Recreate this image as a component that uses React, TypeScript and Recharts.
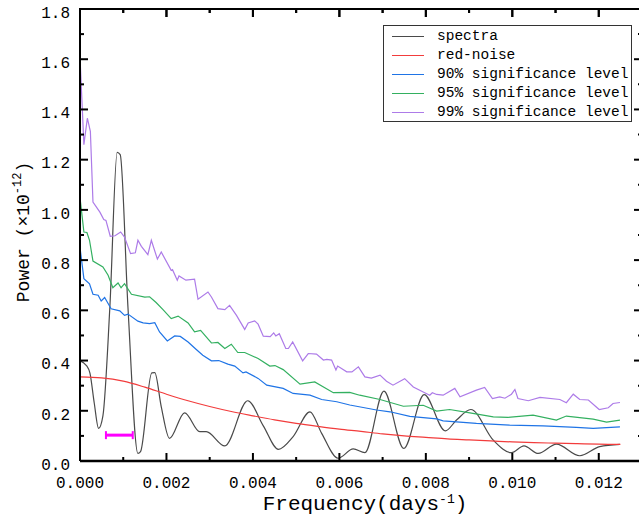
import React from "react"
import { LineChart, Line, XAxis, YAxis, ReferenceLine, CartesianGrid } from "recharts"

const MONO = '"Liberation Mono", "DejaVu Sans Mono", monospace'

// tick positions (major + minor)
const xTicks = [0, 0.001, 0.002, 0.003, 0.004, 0.005, 0.006, 0.007, 0.008, 0.009, 0.01, 0.011, 0.012, 0.013]
const yTicks = [0, 0.1, 0.2, 0.3, 0.4, 0.5, 0.6, 0.7, 0.8, 0.9, 1.0, 1.1, 1.2, 1.3, 1.4, 1.5, 1.6, 1.7, 1.8]

// spectra
const spectraFreq = [
  0, 0.00015, 0.00023, 0.00033, 0.00043, 0.00053, 0.00069, 0.00086, 0.00093, 0.00111,
  0.00134, 0.0014, 0.00166, 0.00173, 0.00188, 0.00207, 0.00242, 0.00277, 0.00292, 0.00335,
  0.00388, 0.00424, 0.00459, 0.00493, 0.00532, 0.00559, 0.00597, 0.00632, 0.00659, 0.00703,
  0.00749, 0.00796, 0.00845, 0.00871, 0.00904, 0.00956, 0.00998, 0.01027, 0.0106, 0.01102,
  0.01156, 0.01202, 0.01249,
]
const spectraPower = [
  0.399, 0.38, 0.35, 0.23, 0.13, 0.18, 0.61, 1.229, 1.22, 0.61,
  0.03, 0.037, 0.351, 0.352, 0.216, 0.09, 0.192, 0.117, 0.117, 0.06,
  0.24, 0.14, 0.046, 0.097, 0.196, 0.11, 0.011, 0.048, 0.033, 0.278,
  0.05, 0.264, 0.12, 0.163, 0.205, 0.083, 0.033, 0.06, 0.03, 0.067,
  0.021, 0.057, 0.066,
]

// red-noise
const redFreq = [
  0, 0.0005, 0.001, 0.0015, 0.002, 0.0025, 0.003, 0.0035, 0.004, 0.0045, 0.005, 0.0055, 0.006,
  0.0065, 0.007, 0.0075, 0.008, 0.0085, 0.009, 0.0095, 0.01, 0.0105, 0.011, 0.0115, 0.012, 0.0125,
]
const redPower = [
  0.335, 0.331, 0.318, 0.294, 0.266, 0.24, 0.217, 0.197, 0.18, 0.164, 0.15, 0.138, 0.127,
  0.118, 0.108, 0.1, 0.094, 0.088, 0.084, 0.08, 0.076, 0.073, 0.071, 0.069, 0.067, 0.066,
]

// 90% significance level
const sig90Freq = [
  0, 0.00009, 0.00022, 0.0003, 0.00042, 0.00049, 0.00057, 0.00072, 0.00092, 0.00103,
  0.00111, 0.00134, 0.00146, 0.00161, 0.00173, 0.00184, 0.00202, 0.00219, 0.00232, 0.0025,
  0.00269, 0.00284, 0.00304, 0.00321, 0.00342, 0.00358, 0.00377, 0.00384, 0.00412, 0.00432,
  0.0047, 0.00493, 0.00532, 0.00559, 0.00594, 0.00624, 0.00686, 0.00717, 0.00763, 0.00825,
  0.0084, 0.00917, 0.00994, 0.01071, 0.01148, 0.01187, 0.01249,
]
const sig90Power = [
  0.85, 0.726, 0.706, 0.664, 0.66, 0.637, 0.651, 0.606, 0.598, 0.58,
  0.585, 0.557, 0.55, 0.547, 0.551, 0.514, 0.478, 0.498, 0.496, 0.474,
  0.444, 0.421, 0.399, 0.4, 0.386, 0.378, 0.351, 0.355, 0.329, 0.302,
  0.289, 0.269, 0.262, 0.245, 0.236, 0.223, 0.203, 0.196, 0.178, 0.168,
  0.16, 0.15, 0.143, 0.14, 0.134, 0.13, 0.136,
]

// 95% significance level
const sig95Freq = [
  0, 0.00009, 0.00016, 0.00022, 0.0003, 0.00053, 0.00065, 0.00076, 0.00088, 0.00095,
  0.00103, 0.00119, 0.0015, 0.00161, 0.00176, 0.00192, 0.00211, 0.00227, 0.0025, 0.00265,
  0.00279, 0.00304, 0.00319, 0.00335, 0.0035, 0.00365, 0.00381, 0.00412, 0.00439, 0.00451,
  0.0047, 0.00509, 0.00543, 0.00586, 0.00624, 0.00647, 0.00694, 0.00748, 0.00794, 0.00825,
  0.00855, 0.00902, 0.00956, 0.0099, 0.01048, 0.01102, 0.01125, 0.01187, 0.01218, 0.01249,
]
const sig95Power = [
  1.049, 0.912, 0.91, 0.879, 0.796, 0.773, 0.74, 0.69, 0.709, 0.69,
  0.706, 0.664, 0.653, 0.654, 0.631, 0.603, 0.567, 0.577, 0.55, 0.514,
  0.52, 0.47, 0.472, 0.448, 0.465, 0.432, 0.432, 0.408, 0.378, 0.38,
  0.364, 0.306, 0.315, 0.272, 0.273, 0.262, 0.245, 0.218, 0.222, 0.199,
  0.205, 0.192, 0.176, 0.174, 0.183, 0.163, 0.179, 0.167, 0.155, 0.163,
]

// 99% significance level
const sig99Freq = [
  0, 0.00009, 0.00017, 0.00024, 0.0003, 0.00046, 0.00055, 0.0006, 0.0007, 0.00081,
  0.00094, 0.00103, 0.00117, 0.00128, 0.00134, 0.00142, 0.00157, 0.00165, 0.00179, 0.00188,
  0.00211, 0.00214, 0.00225, 0.00229, 0.00245, 0.00265, 0.00273, 0.00296, 0.00304, 0.00319,
  0.00335, 0.00346, 0.00362, 0.00381, 0.00389, 0.00404, 0.00412, 0.00424, 0.0044, 0.00448,
  0.00453, 0.00461, 0.00476, 0.00482, 0.00492, 0.00515, 0.00528, 0.00547, 0.00563, 0.00571,
  0.00582, 0.00592, 0.00596, 0.00617, 0.00629, 0.00644, 0.00659, 0.00674, 0.00694, 0.00709,
  0.00724, 0.00751, 0.00771, 0.00802, 0.00809, 0.00815, 0.00825, 0.0084, 0.00867, 0.00879,
  0.00917, 0.00936, 0.00954, 0.00971, 0.00983, 0.00998, 0.01006, 0.01013, 0.01037, 0.01064,
  0.0111, 0.01125, 0.01141, 0.01156, 0.01176, 0.01201, 0.01222, 0.01233, 0.01249,
]
const sig99Power = [
  1.608, 1.26, 1.365, 1.313, 1.031, 0.991, 0.962, 0.958, 0.895, 0.897,
  0.912, 0.892, 0.826, 0.829, 0.879, 0.855, 0.822, 0.879, 0.804, 0.832,
  0.759, 0.762, 0.72, 0.737, 0.72, 0.724, 0.644, 0.673, 0.653, 0.607,
  0.603, 0.62, 0.58, 0.524, 0.55, 0.558, 0.545, 0.497, 0.495, 0.51,
  0.498, 0.507, 0.448, 0.448, 0.474, 0.399, 0.428, 0.426, 0.402, 0.405,
  0.402, 0.362, 0.378, 0.355, 0.355, 0.375, 0.335, 0.33, 0.342, 0.318,
  0.302, 0.328, 0.295, 0.268, 0.262, 0.272, 0.265, 0.262, 0.289, 0.256,
  0.282, 0.293, 0.249, 0.255, 0.25, 0.266, 0.285, 0.249, 0.24, 0.253,
  0.245, 0.232, 0.266, 0.245, 0.243, 0.205, 0.212, 0.229, 0.233,
]

// magenta resolution bar
const barFreq = [0.0006, 0.00122]
const barPower = [0.103, 0.103]

const toPoints = (xs: number[], ys: number[]) => xs.map((freq, i) => ({ freq, power: ys[i] }))

const seriesList = [
  { name: "spectra", color: "#4a4a4a", data: toPoints(spectraFreq, spectraPower), curve: "monotone" },
  { name: "red-noise", color: "#f23c3c", data: toPoints(redFreq, redPower), curve: "monotone" },
  { name: "90% significance level", color: "#1f74e6", data: toPoints(sig90Freq, sig90Power), curve: "linear" },
  { name: "95% significance level", color: "#33b060", data: toPoints(sig95Freq, sig95Power), curve: "linear" },
  { name: "99% significance level", color: "#ad7be8", data: toPoints(sig99Freq, sig99Power), curve: "linear" },
]

// plot box inside the 650x516 chart
const PLOT = { left: 80, top: 9, width: 562, height: 452 }

const isMajor = (v: number, step: number) => Math.round(v / step) % 2 === 0

const BottomTick = (props: any) => {
  const { x, y, payload } = props
  const major = isMajor(payload.value, 0.001)
  return (
    <g>
      <line x1={x} x2={x} y1={y} y2={y - (major ? 8 : 4)} stroke="#000" strokeWidth={2} />
      {major ? (
        <text x={x} y={y + 27} textAnchor="middle" fontSize={16} fontFamily={MONO} fill="#000">
          {payload.value.toFixed(3)}
        </text>
      ) : null}
    </g>
  )
}

const LeftTick = (props: any) => {
  const { x, y, payload } = props
  const major = isMajor(payload.value, 0.1)
  return (
    <g>
      <line x1={x} x2={x + (major ? 8 : 4)} y1={y} y2={y} stroke="#000" strokeWidth={2} />
      {major ? (
        <text x={x - 10} y={y + 3} dy="0.36em" textAnchor="end" fontSize={16} fontFamily={MONO} fill="#000">
          {payload.value.toFixed(1)}
        </text>
      ) : null}
    </g>
  )
}

// top edge: inward tick from the upper end of a vertical reference line
const topTickShape = (len: number) => (p: any) => {
  const yTop = Math.min(p.y1, p.y2)
  return <line x1={p.x1} x2={p.x1} y1={yTop} y2={yTop + len} stroke="#000" strokeWidth={2} />
}

// right edge: inward tick from the right end of a horizontal reference line
const rightTickShape = (len: number) => (p: any) => {
  const xRight = Math.max(p.x1, p.x2)
  return <line x1={xRight} x2={xRight - len} y1={p.y1} y2={p.y1} stroke="#000" strokeWidth={2} />
}

const XTitle = (props: any) => {
  const vb = props.viewBox ?? { x: 80, y: 461, width: 562, height: 40 }
  return (
    <text x={vb.x + vb.width / 2 + 4} y={510} textAnchor="middle" fontSize={21} fontFamily={MONO} fill="#000">
      Frequency(days
      <tspan dy={-7} fontSize={13}>-1</tspan>
      <tspan dy={7}>)</tspan>
    </text>
  )
}

const YTitle = () => {
  const cx = 29
  const cy = 232
  return (
    <text x={cx} y={cy} textAnchor="middle" fontSize={18} fontFamily={MONO} fill="#000" transform={`rotate(-90, ${cx}, ${cy})`}>
      Power (×10
      <tspan dy={-8} fontSize={12}>-12</tspan>
      <tspan dy={8}>)</tspan>
    </text>
  )
}

// top frame edge with its inward ticks, laid over the chart
const TopFrame = () => {
  const xMax = xTicks[xTicks.length - 1]
  return (
    <svg
      width={639}
      height={24}
      style={{ position: "absolute", left: 0, top: 0, zIndex: 5, pointerEvents: "none", overflow: "visible" }}
    >
      <line x1={PLOT.left - 1} x2={PLOT.left + PLOT.width} y1={PLOT.top} y2={PLOT.top} stroke="#000" strokeWidth={2} />
      {xTicks.map((t) => {
        const x = PLOT.left + (t / xMax) * PLOT.width
        return <line key={t} x1={x} x2={x} y1={PLOT.top} y2={PLOT.top + (isMajor(t, 0.001) ? 8 : 4)} stroke="#000" strokeWidth={2} />
      })}
    </svg>
  )
}

const LegendBox = () => (
  <div
    style={{
      position: "absolute",
      left: 383,
      top: 25,
      width: 247,
      height: 94,
      border: "1px solid #333",
      background: "#fff",
      fontFamily: MONO,
      fontSize: 14.5,
      color: "#000",
      paddingTop: 1,
      zIndex: 6,
    }}
  >
    {seriesList.map((s) => (
      <div key={s.name} style={{ display: "flex", alignItems: "center", height: 19 }}>
        <div style={{ width: 32, height: 1.5, background: s.color, marginLeft: 8, marginRight: 13, flex: "none" }} />
        <span style={{ lineHeight: "19px", whiteSpace: "nowrap" }}>{s.name}</span>
      </div>
    ))}
  </div>
)

const CapDot = (props: any) => {
  const { cx, cy } = props
  if (cx == null || cy == null) return null
  return <line key={`${cx}-${cy}`} x1={cx} x2={cx} y1={cy - 4} y2={cy + 4} stroke="#ff00ff" strokeWidth={2} />
}

export default function App() {
  const xDomain = [0, 0.013]
  const yDomain = [0, 1.8]
  return (
    <div style={{ position: "absolute", left: 0, top: 0, width: 639, height: 516, overflow: "hidden", background: "#fff" }}>
      <LineChart width={650} height={516} margin={{ top: 9, right: 8, bottom: 15, left: 20 }}>
        <CartesianGrid horizontalValues={[1.8]} verticalValues={[0.013]} stroke="#000" strokeWidth={2} />
        <XAxis
          type="number"
          dataKey="freq"
          domain={xDomain}
          allowDataOverflow
          ticks={xTicks}
          interval={0}
          height={40}
          tickSize={0}
          tickMargin={0}
          tickLine={false}
          axisLine={{ stroke: "#000", strokeWidth: 2.5 }}
          tick={(p: any) => <BottomTick {...p} />}
          label={<XTitle />}
        />
        <YAxis
          type="number"
          domain={yDomain}
          allowDataOverflow
          ticks={yTicks}
          interval={0}
          width={60}
          tickSize={0}
          tickMargin={0}
          tickLine={false}
          axisLine={{ stroke: "#000", strokeWidth: 2 }}
          tick={(p: any) => <LeftTick {...p} />}
          label={<YTitle />}
        />
        <ReferenceLine y={1.8} stroke="#000" strokeWidth={2} ifOverflow="extendDomain" />
        {xTicks.map((t) => (
          <ReferenceLine key={`tx${t}`} x={t} ifOverflow="extendDomain" shape={topTickShape(isMajor(t, 0.001) ? 8 : 4)} />
        ))}
        {yTicks.map((t) => (
          <ReferenceLine key={`ry${t}`} y={t} ifOverflow="extendDomain" shape={rightTickShape(isMajor(t, 0.1) ? 8 : 4)} />
        ))}
        {seriesList.map((s) => (
          <Line
            key={s.name}
            data={s.data}
            dataKey="power"
            name={s.name}
            type={s.curve as any}
            stroke={s.color}
            strokeWidth={1.2}
            dot={false}
            activeDot={false}
            isAnimationActive={false}
          />
        ))}
        <Line
          data={toPoints(barFreq, barPower)}
          dataKey="power"
          name="resolution"
          legendType="none"
          type="linear"
          stroke="#ff00ff"
          strokeWidth={3}
          dot={<CapDot />}
          activeDot={false}
          isAnimationActive={false}
        />
      </LineChart>
      <TopFrame />
      <LegendBox />
    </div>
  )
}
